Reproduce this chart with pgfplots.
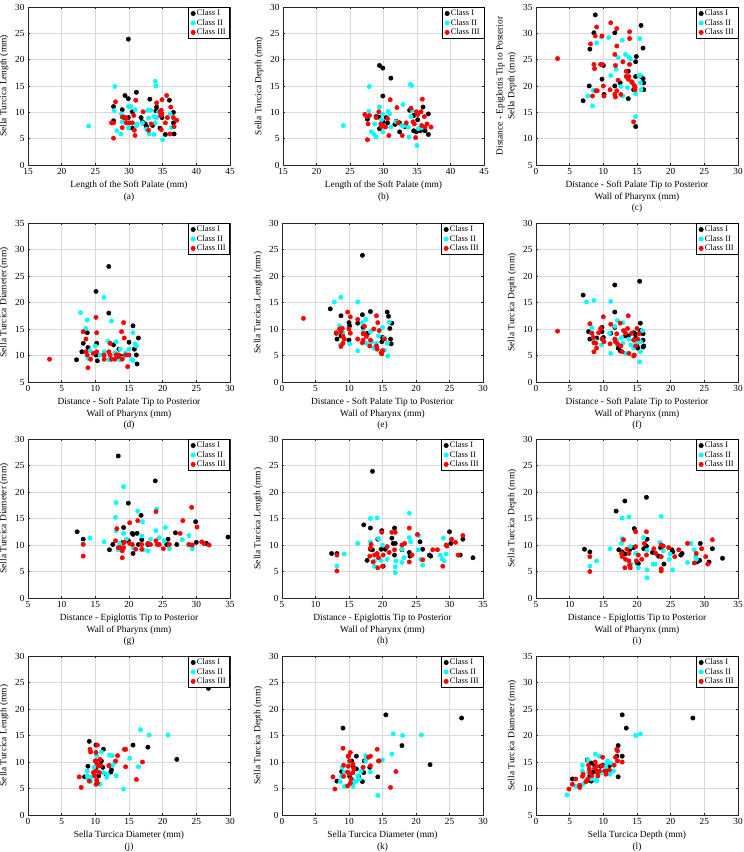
\documentclass[border=0pt]{standalone}
\usepackage{fontspec}
\setmainfont{Liberation Serif}
\usepackage{pgfplots}
\pgfplotsset{compat=1.18}

\definecolor{clsIIcol}{RGB}{0,255,255}
\definecolor{clsIIIcol}{RGB}{255,0,0}

\tikzset{
  clsI/.style={only marks, mark=*, mark size=2.2pt, color=black},
  clsII/.style={only marks, mark=*, mark size=2.2pt, color=clsIIcol},
  clsIII/.style={only marks, mark=*, mark size=2.2pt, color=clsIIIcol},
}

\pgfplotsset{
  panel/.style={
    scale only axis, height=159pt,
    anchor=north west,
    enlargelimits=false,
    grid=major, grid style={line width=0.4pt, black!15},
    axis line style={line width=0.5pt, black!85},
    tick align=inside, major tick length=2.2pt,
    every tick/.style={black!85, line width=0.4pt},
    /pgf/number format/assume math mode=true,
    tick label style={font=\fontsize{9.3}{10}\selectfont},
    label style={font=\fontsize{9.4}{11.8}\selectfont, align=center},
    xlabel style={yshift=1pt},
    xtick distance=5, ytick distance=5,
    legend style={at={(1,1)}, anchor=north east, draw=black, line width=0.5pt,
      font=\fontsize{8.4}{9.5}\selectfont, inner xsep=2.5pt, inner ysep=1pt, row sep=-1.1pt,
      nodes={inner sep=1.6pt}},
    legend cell align=left,
    legend image code/.code={\draw[#1] plot coordinates {(3.5pt,0pt)};},
  },
  colA/.style={panel, width=202pt},
  colB/.style={panel, width=201pt},
  colC/.style={panel, width=202pt},
}

\begin{document}
\begin{tikzpicture}
\useasboundingbox (0,0) rectangle (744pt,-852pt);

% ---------- (a) ----------
\begin{axis}[colA, at={(28pt,-7pt)}, height=158pt,
  xmin=15, xmax=45, ymin=0, ymax=30,
  xlabel={Length of the Soft Palate (mm)\\(a)},
  ylabel={Sella Turcica Length (mm)}]
\addplot[clsI] coordinates {(29.9,23.9)(29.4,13.2)(31.1,13.8)(29.9,12.6)(33.1,12.5)(27.7,11.1)(29.0,10.5)(30.5,10.1)(34.1,11.0)(34.0,10.3)(36.6,10.0)(36.0,12.3)(27.7,8.4)(29.9,9.0)(31.8,9.0)(32.0,8.2)(32.4,7.8)(32.6,7.3)(33.5,7.5)(34.9,9.0)(34.6,7.0)(35.4,5.8)(36.7,5.9)(36.6,8.0)(30.5,7.0)(29.4,8.9)};
\addplot[clsII] coordinates {(24.0,7.4)(27.9,14.9)(33.9,15.9)(34.0,15.0)(27.8,10.3)(29.9,11.1)(30.3,11.1)(30.9,10.5)(32.8,10.4)(33.2,10.4)(33.7,9.2)(34.1,9.0)(34.4,10.1)(32.9,8.9)(28.9,9.7)(29.0,8.2)(29.7,8.2)(28.2,6.5)(28.8,5.9)(29.9,7.1)(31.1,7.4)(31.2,7.8)(32.0,8.0)(33.0,5.9)(33.7,5.8)(33.9,8.0)(35.0,4.8)(36.1,9.7)(36.3,7.1)(32.6,6.8)};
\addplot[clsIII] coordinates {(28.0,12.0)(31.0,12.3)(27.4,8.0)(27.7,8.0)(27.7,5.1)(29.0,9.1)(29.3,9.1)(29.6,8.9)(29.0,7.1)(29.6,8.0)(30.1,8.0)(30.5,8.0)(30.7,9.4)(30.8,6.6)(30.9,5.6)(32.1,10.1)(32.9,6.6)(33.3,7.8)(34.1,11.8)(34.6,10.1)(34.8,10.4)(34.9,9.7)(34.7,9.4)(34.9,12.4)(34.8,6.7)(35.4,8.0)(35.6,13.2)(35.7,9.0)(36.2,11.0)(36.1,5.9)(36.6,9.0)(36.7,7.3)(37.1,8.5)};
\legend{Class I, Class II, Class III}
\end{axis}

% ---------- (b) ----------
\begin{axis}[colB, at={(283pt,-7pt)}, height=158pt,
  xmin=15, xmax=45, ymin=0, ymax=30,
  xlabel={Length of the Soft Palate (mm)\\(b)},
  ylabel={Sella Turcica Depth (mm)}]
\addplot[clsI] coordinates {(29.4,18.9)(29.9,18.4)(31.1,16.5)(29.9,13.1)(27.6,8.7)(27.6,9.2)(28.9,9.2)(29.3,9.1)(29.4,6.9)(29.9,8.2)(30.4,9.0)(30.6,8.0)(31.7,7.7)(31.9,8.3)(32.4,8.0)(32.4,6.3)(33.2,7.3)(33.9,10.4)(34.5,9.4)(34.5,6.5)(34.9,6.3)(35.1,8.6)(35.5,6.5)(35.9,11.0)(36.2,6.5)(36.7,9.7)(36.7,5.8)};
\addplot[clsII] coordinates {(24.0,7.5)(27.9,14.9)(34.0,15.3)(34.2,15.1)(27.8,10.2)(29.4,11.0)(30.7,10.2)(30.9,9.7)(32.9,11.5)(34.3,10.4)(34.1,9.2)(29.9,9.6)(29.7,8.6)(28.7,7.8)(28.2,6.3)(28.6,5.8)(28.9,5.3)(29.9,6.3)(31.1,7.2)(31.9,8.2)(32.8,7.5)(33.1,7.5)(33.7,7.2)(33.8,5.3)(35.0,3.7)(35.2,6.9)(35.7,7.1)};
\addplot[clsIII] coordinates {(27.6,4.8)(27.2,9.6)(27.5,9.2)(27.7,7.8)(27.9,9.4)(28.9,9.0)(29.3,10.1)(29.6,7.8)(29.7,7.3)(29.9,7.5)(30.3,7.2)(30.6,8.8)(30.8,5.6)(31.0,12.4)(32.0,10.9)(32.2,8.0)(32.8,5.6)(33.4,8.0)(34.1,10.8)(34.4,8.2)(34.6,7.8)(34.8,5.2)(34.9,10.1)(35.1,9.6)(35.6,10.1)(35.8,12.5)(35.7,7.5)(36.1,9.2)(36.2,7.2)(36.5,7.8)(37.1,7.2)};
\legend{Class I, Class II, Class III}
\end{axis}

% ---------- (c) ----------
\begin{axis}[colC, at={(536pt,-7pt)}, height=158pt,
  xmin=0, xmax=30, ymin=5, ymax=35,
  xlabel={Distance - Soft Palate Tip to Posterior\\Wall of Pharynx (mm)\\(c)},
  ylabel={Distance - Epiglottis Tip to Posterior\\Sella Depth (mm)}]
\addplot[clsI] coordinates {(8.8,33.5)(8.6,30.1)(11.7,30.1)(15.6,31.5)(8.0,27.0)(15.9,27.2)(14.9,25.6)(14.8,24.6)(10.0,23.9)(13.7,22.8)(14.8,21.8)(15.6,21.8)(9.8,21.3)(15.9,21.4)(16.0,20.6)(7.9,20.0)(11.7,20.0)(12.5,20.6)(14.5,19.3)(16.0,19.3)(7.0,17.2)(10.1,18.4)(13.7,17.6)(14.8,12.3)};
\addplot[clsII] coordinates {(9.7,29.3)(10.8,29.2)(9.0,28.2)(12.8,28.7)(15.4,29.0)(13.3,26.0)(13.8,25.5)(14.0,25.1)(12.2,25.4)(11.9,23.2)(11.1,22.0)(15.3,22.0)(15.5,22.0)(15.5,20.6)(15.6,19.3)(13.6,19.7)(12.6,19.9)(8.5,19.2)(7.7,18.1)(8.4,16.2)(12.9,18.1)(14.8,18.5)(14.8,14.2)};
\addplot[clsIII] coordinates {(3.2,25.2)(11.1,32.0)(9.0,31.2)(12.0,30.9)(13.9,30.3)(8.8,29.5)(9.8,29.5)(8.1,28.0)(12.0,27.6)(13.9,29.0)(11.7,26.0)(12.9,24.6)(11.8,23.9)(8.6,24.1)(8.7,23.3)(9.6,24.1)(9.8,24.1)(13.9,24.1)(13.4,22.8)(13.4,21.8)(13.8,21.8)(13.7,21.3)(12.2,21.1)(10.0,20.0)(14.2,20.8)(14.3,20.6)(14.6,20.1)(14.7,19.7)(14.7,19.3)(8.9,19.1)(9.1,19.1)(8.4,18.1)(10.1,18.1)(11.0,19.3)(11.7,18.4)(11.8,17.9)(12.0,19.1)(12.6,18.4)(14.5,13.2)};
\legend{Class I, Class II, Class III}
\end{axis}

% ---------- (d) ----------
\begin{axis}[colA, at={(28pt,-223pt)},
  xmin=0, xmax=30, ymin=5, ymax=35,
  xlabel={Distance - Soft Palate Tip to Posterior\\Wall of Pharynx (mm)\\(d)},
  ylabel={Sella Turcica Diameter (mm)}]
\addplot[clsI] coordinates {(12.0,26.8)(10.1,22.1)(12.0,18.0)(8.8,14.3)(8.2,12.3)(10.2,12.3)(8.0,10.7)(8.9,11.5)(7.2,9.2)(10.3,9.0)(10.1,10.1)(12.7,12.0)(13.3,10.1)(13.5,11.2)(15.0,12.5)(15.6,15.6)(16.4,13.3)(15.8,11.2)(16.1,10.1)(16.2,8.4)(13.9,9.8)};
\addplot[clsII] coordinates {(7.8,18.1)(8.8,16.7)(8.6,15.1)(11.3,21.0)(12.4,16.5)(11.9,12.7)(13.1,12.6)(10.0,11.8)(10.7,10.1)(9.2,10.9)(8.9,9.5)(11.3,10.7)(12.0,9.2)(12.9,10.5)(13.2,9.8)(13.6,9.2)(14.1,9.5)(14.5,10.5)(15.0,11.2)(15.4,9.3)(15.6,9.0)(15.9,12.2)(15.6,14.3)(16.1,11.8)(13.7,11.2)};
\addplot[clsIII] coordinates {(3.2,9.3)(8.2,14.5)(8.6,13.1)(10.1,17.2)(10.2,14.3)(8.6,10.7)(8.8,10.1)(8.9,7.7)(9.3,9.3)(9.7,10.4)(10.2,10.7)(11.3,10.1)(11.3,9.3)(12.0,10.7)(12.2,10.1)(12.4,9.3)(12.2,12.3)(12.9,9.3)(13.4,9.8)(13.9,14.5)(14.2,16.2)(14.3,13.3)(14.0,9.3)(14.5,10.1)(15.0,10.1)(14.8,7.9)(13.1,10.1)(13.5,10.1)};
\legend{Class I, Class II, Class III}
\end{axis}

% ---------- (e) ----------
\begin{axis}[colB, at={(282pt,-223pt)},
  xmin=0, xmax=30, ymin=0, ymax=30,
  xlabel={Distance - Soft Palate Tip to Posterior\\Wall of Pharynx (mm)\\(e)},
  ylabel={Sella Turcica Length (mm)}]
\addplot[clsI] coordinates {(12.0,23.9)(7.2,13.8)(8.8,12.5)(10.0,11.2)(10.1,10.6)(12.0,12.7)(13.2,13.3)(15.7,13.2)(15.9,12.4)(16.1,10.1)(16.4,11.1)(12.1,10.3)(11.3,11.1)(8.1,9.2)(8.2,8.1)(8.8,8.7)(10.0,7.9)(12.8,9.2)(15.0,8.4)(14.9,7.6)(16.2,8.1)(16.3,7.2)};
\addplot[clsII] coordinates {(7.8,15.1)(8.8,16.0)(11.3,15.1)(12.0,11.2)(12.5,11.8)(8.6,10.6)(9.1,9.2)(8.7,7.0)(10.1,7.2)(11.3,5.9)(12.1,9.5)(13.2,9.5)(13.4,7.6)(13.7,6.4)(14.1,7.3)(14.4,8.7)(15.0,10.3)(15.3,8.3)(15.7,7.3)(15.8,4.9)(16.0,11.3)(15.3,6.0)(12.6,7.3)};
\addplot[clsIII] coordinates {(3.2,12.0)(9.8,13.2)(10.2,12.3)(11.3,11.8)(12.3,10.5)(14.1,12.5)(14.3,11.2)(13.7,10.0)(14.5,9.7)(10.0,10.0)(10.2,9.2)(8.1,9.3)(8.6,10.0)(9.0,10.1)(8.8,9.5)(9.1,8.6)(9.3,8.1)(8.8,6.7)(9.1,7.3)(11.3,8.1)(12.1,9.1)(12.3,9.1)(12.6,8.6)(12.0,7.4)(12.1,7.9)(13.1,6.8)(13.2,7.9)(14.1,6.8)(14.2,6.2)(14.8,5.5)(15.0,5.9)(14.9,5.3)(15.3,8.1)};
\legend{Class I, Class II, Class III}
\end{axis}

% ---------- (f) ----------
\begin{axis}[colC, at={(536pt,-223pt)},
  xmin=0, xmax=30, ymin=0, ymax=30,
  xlabel={Distance - Soft Palate Tip to Posterior\\Wall of Pharynx (mm)\\(f)},
  ylabel={Sella Turcica Depth (mm)}]
\addplot[clsI] coordinates {(7.0,16.4)(11.7,18.3)(15.4,19.0)(11.7,13.2)(15.5,11.1)(7.8,9.5)(8.0,8.1)(9.8,10.3)(9.8,9.5)(10.0,8.4)(9.0,8.3)(11.1,9.2)(11.7,10.3)(12.2,6.4)(12.5,5.9)(13.3,8.7)(13.7,8.7)(14.5,9.3)(14.7,9.1)(14.8,8.3)(15.0,6.8)(15.1,6.4)(15.5,9.7)(15.9,9.1)(15.9,7.9)(16.0,6.8)(15.9,6.6)};
\addplot[clsII] coordinates {(7.5,15.1)(8.6,15.4)(11.1,15.2)(12.9,11.2)(12.1,11.6)(10.9,9.2)(11.7,10.5)(8.3,10.3)(8.3,9.3)(8.7,7.8)(9.7,7.0)(11.1,5.4)(12.0,7.9)(12.7,8.4)(12.9,7.3)(13.3,5.4)(13.8,8.1)(14.1,7.0)(14.5,6.4)(14.9,7.3)(15.5,7.6)(15.5,5.7)(15.4,3.8)(15.8,9.7)};
\addplot[clsIII] coordinates {(3.2,9.6)(8.0,11.0)(8.3,9.2)(8.5,8.4)(8.6,7.4)(8.9,7.3)(8.6,5.7)(9.0,6.4)(9.3,9.3)(9.6,10.1)(9.8,8.1)(10.1,7.6)(10.0,12.3)(11.1,10.9)(11.0,7.2)(11.7,8.1)(11.8,7.6)(12.1,7.2)(12.0,9.1)(12.5,11.1)(12.6,6.8)(12.8,5.7)(13.0,9.7)(13.3,9.2)(13.6,10.1)(13.7,12.5)(14.2,9.2)(14.5,7.9)(13.8,5.4)(14.6,5.1)(15.0,10.1)(15.3,9.1)(15.1,8.1)(14.8,6.8)(14.5,4.9)};
\legend{Class I, Class II, Class III}
\end{axis}

% ---------- (g) ----------
\begin{axis}[colA, at={(28pt,-439pt)},
  xmin=5, xmax=35, ymin=0, ymax=30,
  xlabel={Distance - Epiglottis Tip to Posterior\\Wall of Pharynx (mm)\\(g)},
  ylabel={Sella Turcica Diameter (mm)}]
\addplot[clsI] coordinates {(18.4,26.8)(23.9,22.1)(19.9,17.9)(21.8,15.6)(12.3,12.5)(13.2,11.1)(19.2,13.3)(20.5,12.2)(21.2,12.2)(20.6,12.0)(17.1,9.1)(17.6,10.1)(19.1,10.5)(19.9,10.8)(20.6,8.4)(21.4,10.1)(21.9,11.0)(22.8,10.1)(25.8,11.1)(25.6,10.1)(26.9,12.3)(27.1,10.1)(29.9,14.4)(30.0,10.5)(31.5,10.3)(34.7,11.5)};
\addplot[clsII] coordinates {(19.2,21.0)(18.1,18.0)(18.0,15.2)(21.3,16.4)(24.1,16.8)(22.0,14.4)(14.2,11.3)(16.3,10.6)(18.1,12.7)(18.4,9.1)(19.2,12.2)(19.6,11.1)(21.9,11.7)(22.1,9.1)(22.8,8.9)(23.2,11.1)(24.0,12.7)(24.5,11.4)(25.2,10.8)(25.4,13.3)(26.0,9.3)(27.9,11.0)(28.9,11.8)(29.3,10.0)(29.4,9.3)(28.8,10.1)(13.2,10.3)(18.6,10.3)(20.6,9.5)};
\addplot[clsIII] coordinates {(13.2,7.9)(13.2,10.1)(18.2,13.1)(18.0,10.8)(18.4,9.5)(18.7,9.5)(19.0,8.9)(19.0,7.6)(19.2,9.5)(19.3,10.5)(20.1,14.2)(20.1,10.3)(20.5,10.1)(21.0,9.2)(21.3,14.6)(21.9,9.2)(21.9,10.1)(22.8,10.3)(23.2,10.1)(24.0,16.3)(24.0,10.8)(24.2,10.1)(24.5,10.1)(25.1,9.3)(26.0,10.1)(27.6,12.2)(28.0,14.6)(28.9,10.1)(29.3,17.1)(29.4,10.0)(30.1,13.4)(30.8,10.6)(31.1,10.3)(31.9,10.0)};
\legend{Class I, Class II, Class III}
\end{axis}

% ---------- (h) ----------
\begin{axis}[colB, at={(282pt,-439pt)},
  xmin=5, xmax=35, ymin=0, ymax=30,
  xlabel={Distance - Epiglottis Tip to Posterior\\Wall of Pharynx (mm)\\(h)},
  ylabel={Sella Turcica Length (mm)}]
\addplot[clsI] coordinates {(18.5,23.9)(17.2,13.8)(18.2,13.2)(19.9,12.7)(21.8,13.2)(21.4,11.3)(21.6,10.3)(21.9,10.3)(12.4,8.4)(13.2,8.4)(17.7,7.1)(18.2,9.2)(18.5,9.1)(19.3,11.1)(19.8,9.2)(20.1,6.0)(20.4,9.2)(21.8,8.1)(22.9,9.1)(24.0,8.6)(24.1,7.9)(25.6,10.6)(26.0,9.2)(27.0,8.1)(27.2,7.9)(30.0,12.5)(30.2,10.3)(31.6,8.1)(32.0,11.1)(33.5,7.6)};
\addplot[clsII] coordinates {(24.0,16.0)(18.2,15.0)(19.2,15.1)(16.3,10.3)(14.3,8.3)(13.2,6.0)(18.2,10.6)(19.4,11.2)(20.0,10.0)(18.8,6.0)(18.8,7.0)(19.8,7.1)(20.7,7.3)(21.9,5.9)(21.9,4.8)(22.0,7.0)(22.9,6.7)(23.2,7.6)(24.0,11.4)(24.2,10.6)(25.3,9.1)(25.4,11.8)(25.7,7.3)(26.0,6.2)(28.6,8.1)(28.9,7.4)(29.2,7.0)(29.1,11.3)(29.5,8.3)(22.9,9.2)};
\addplot[clsIII] coordinates {(13.2,8.1)(13.2,5.1)(18.1,7.9)(18.3,10.1)(18.2,9.4)(18.6,6.8)(18.8,8.1)(19.2,8.4)(19.4,7.6)(19.3,5.7)(19.9,12.4)(20.1,8.1)(20.0,6.0)(20.7,9.7)(21.0,8.6)(21.4,12.4)(21.9,12.4)(21.8,9.1)(22.9,10.0)(23.3,10.3)(24.0,13.2)(24.0,6.8)(24.4,8.1)(25.2,12.0)(26.0,7.2)(27.5,9.1)(28.2,9.1)(29.0,6.0)(29.5,10.0)(29.6,9.8)(30.3,11.1)(30.9,10.5)(31.3,8.1)(32.0,11.8)};
\legend{Class I, Class II, Class III}
\end{axis}

% ---------- (i) ----------
\begin{axis}[colC, at={(536pt,-439pt)},
  xmin=5, xmax=35, ymin=0, ymax=30,
  xlabel={Distance - Epiglottis Tip to Posterior\\Wall of Pharynx (mm)\\(i)},
  ylabel={Sella Turcica Depth (mm)}]
\addplot[clsI] coordinates {(16.9,16.4)(18.2,18.3)(21.4,19.0)(19.6,13.1)(21.5,11.1)(12.2,9.2)(13.0,8.7)(17.3,9.1)(17.8,8.7)(18.2,8.3)(18.9,9.1)(19.5,9.5)(21.0,9.3)(21.4,9.8)(22.3,8.6)(23.5,9.5)(25.2,9.1)(25.3,8.7)(24.0,6.4)(20.0,6.7)(20.2,6.5)(26.5,8.1)(26.7,8.4)(29.4,10.3)(29.3,7.1)(28.9,6.8)(30.7,6.8)(31.2,9.3)(32.7,7.5)(23.2,7.9)};
\addplot[clsII] coordinates {(17.8,15.1)(18.8,15.3)(23.6,15.4)(21.0,11.4)(17.8,11.2)(17.7,10.3)(16.0,9.3)(14.0,7.0)(13.0,6.0)(19.0,9.7)(19.8,8.4)(19.1,6.4)(20.2,5.7)(21.5,9.0)(21.5,5.3)(21.5,3.8)(22.4,6.4)(22.7,6.4)(23.4,10.5)(23.9,8.9)(24.8,7.3)(24.9,8.3)(25.3,5.3)(27.5,6.7)(28.0,10.3)(28.5,9.1)(28.7,7.8)(28.8,7.3)};
\addplot[clsIII] coordinates {(13.0,7.8)(13.0,5.0)(18.0,11.0)(17.7,8.4)(17.8,7.8)(18.2,5.7)(18.3,7.3)(18.5,9.2)(18.8,8.4)(18.8,7.0)(18.9,6.2)(19.0,5.7)(19.8,12.5)(19.8,9.7)(19.9,7.0)(20.2,8.1)(20.7,7.3)(21.1,10.3)(21.4,12.5)(21.4,8.1)(22.5,9.3)(22.8,8.4)(23.6,10.0)(23.9,9.8)(23.6,5.5)(23.6,5.1)(23.6,7.8)(24.7,9.5)(25.6,7.8)(26.2,9.1)(27.5,10.3)(28.5,6.6)(28.8,8.4)(29.6,9.3)(30.2,7.8)(30.5,6.4)(31.2,11.0)};
\legend{Class I, Class II, Class III}
\end{axis}

% ---------- (j) ----------
\begin{axis}[colA, at={(28pt,-656pt)},
  xmin=0, xmax=30, ymin=0, ymax=30,
  xlabel={Sella Turcica Diameter (mm)\\(j)},
  ylabel={Sella Turcica Length (mm)}]
\addplot[clsI] coordinates {(26.8,23.9)(22.1,10.5)(17.8,12.8)(15.6,13.2)(9.1,13.9)(10.1,13.2)(11.2,12.4)(8.9,9.2)(8.4,7.2)(10.1,8.7)(10.8,9.4)(10.9,10.2)(10.5,7.4)(11.6,7.7)(12.1,9.3)(12.3,8.1)(12.4,8.5)(11.1,9.0)(10.1,10.2)};
\addplot[clsII] coordinates {(16.7,16.1)(18.0,15.1)(20.8,15.1)(15.1,10.7)(16.4,9.1)(14.2,4.9)(13.1,7.4)(12.1,11.3)(12.5,11.2)(12.9,9.9)(10.9,11.9)(10.2,11.2)(8.8,8.3)(8.8,7.4)(8.9,6.8)(9.3,6.3)(10.7,5.8)(11.7,7.1)(11.8,7.7)(11.2,8.0)(12.5,9.3)(9.8,9.0)(10.3,8.3)(9.4,7.1)};
\addplot[clsIII] coordinates {(7.6,7.2)(7.9,5.2)(9.2,12.4)(9.3,11.9)(10.3,13.2)(10.1,11.8)(10.0,10.2)(10.2,9.8)(10.4,9.3)(10.1,8.3)(9.9,7.4)(10.2,6.6)(10.1,5.8)(10.3,6.0)(10.7,10.5)(10.8,9.3)(10.6,8.0)(9.7,8.0)(9.1,6.4)(12.0,9.3)(13.0,10.2)(13.3,11.2)(14.3,12.4)(14.5,12.4)(14.5,9.1)(16.1,6.7)(17.0,10.0)};
\legend{Class I, Class II, Class III}
\end{axis}

% ---------- (k) ----------
\begin{axis}[colB, at={(282pt,-656pt)},
  xmin=0, xmax=30, ymin=0, ymax=30,
  xlabel={Sella Turcica Diameter (mm)\\(k)},
  ylabel={Sella Turcica Depth (mm)}]
\addplot[clsI] coordinates {(9.1,16.4)(15.5,18.9)(26.8,18.3)(17.9,13.1)(22.1,9.5)(9.9,11.1)(11.1,11.1)(8.9,8.2)(8.2,6.4)(10.4,10.2)(10.6,9.3)(11.1,8.7)(11.4,7.3)(12.0,6.3)(12.2,8.0)(12.3,10.2)(13.1,9.0)(14.3,7.2)(10.1,7.3)};
\addplot[clsII] coordinates {(16.6,15.3)(18.0,15.0)(20.8,15.1)(16.4,11.5)(15.0,10.4)(14.3,3.7)(12.5,11.2)(12.5,10.2)(13.2,8.1)(12.1,9.0)(11.8,8.3)(11.3,7.4)(11.1,6.4)(10.6,5.4)(9.3,5.4)(8.9,7.3)(9.3,8.1)(9.0,9.0)(10.1,9.8)(10.1,8.0)(10.5,6.8)(11.6,6.8)(10.7,6.1)(8.7,6.3)};
\addplot[clsIII] coordinates {(7.6,7.2)(7.9,4.9)(9.1,12.6)(9.2,9.4)(9.2,7.3)(9.9,11.1)(10.1,10.2)(9.9,9.2)(9.8,8.1)(10.1,7.7)(9.8,5.5)(10.2,6.0)(10.3,6.8)(10.6,8.0)(10.6,9.6)(10.7,8.7)(10.2,11.8)(12.1,9.0)(12.9,10.9)(13.2,11.1)(13.2,9.3)(14.2,12.4)(14.4,10.2)(14.5,10.2)(16.2,5.2)(17.0,8.2)};
\legend{Class I, Class II, Class III}
\end{axis}

% ---------- (l) ----------
\begin{axis}[colC, at={(536pt,-656pt)},
  xmin=0, xmax=30, ymin=5, ymax=35,
  xlabel={Sella Turcica Depth (mm)\\(l)},
  ylabel={Sella Turcica Diameter (mm)}]
\addplot[clsI] coordinates {(23.3,23.3)(12.8,23.9)(13.4,21.4)(12.2,18.1)(12.0,16.1)(12.8,16.1)(12.2,12.2)(7.6,15.4)(8.2,14.8)(8.7,14.4)(9.0,13.3)(8.5,13.1)(8.0,12.4)(7.5,11.4)(8.2,11.4)(9.6,14.2)(9.9,14.4)(10.9,14.3)(10.4,13.3)(5.4,11.8)};
\addplot[clsII] coordinates {(14.8,20.0)(15.5,20.3)(8.8,16.5)(9.4,16.1)(11.5,13.3)(10.6,15.2)(10.5,14.8)(7.7,15.4)(6.9,14.4)(6.9,13.3)(7.8,13.1)(9.0,11.9)(9.0,11.4)(8.2,11.8)(7.0,10.8)(6.3,10.5)(5.9,10.4)(4.6,8.8)(10.4,14.1)(11.1,14.8)(9.7,13.0)(11.0,12.7)};
\addplot[clsIII] coordinates {(4.9,9.9)(5.4,10.8)(5.9,11.8)(6.5,10.6)(6.5,10.2)(6.9,12.3)(7.0,12.7)(7.4,11.3)(7.7,11.8)(7.8,14.4)(7.9,13.7)(8.0,13.0)(8.3,12.4)(8.7,13.8)(8.8,15.0)(9.0,14.2)(9.1,13.0)(9.2,12.4)(9.4,13.3)(9.8,14.3)(9.9,15.9)(10.2,13.3)(10.4,12.7)(10.9,13.5)(11.6,14.4)(11.8,15.9)(12.0,17.4)(12.1,17.1)(12.1,15.2)(12.8,15.0)};
\legend{Class I, Class II, Class III}
\end{axis}

\end{tikzpicture}
\end{document}
